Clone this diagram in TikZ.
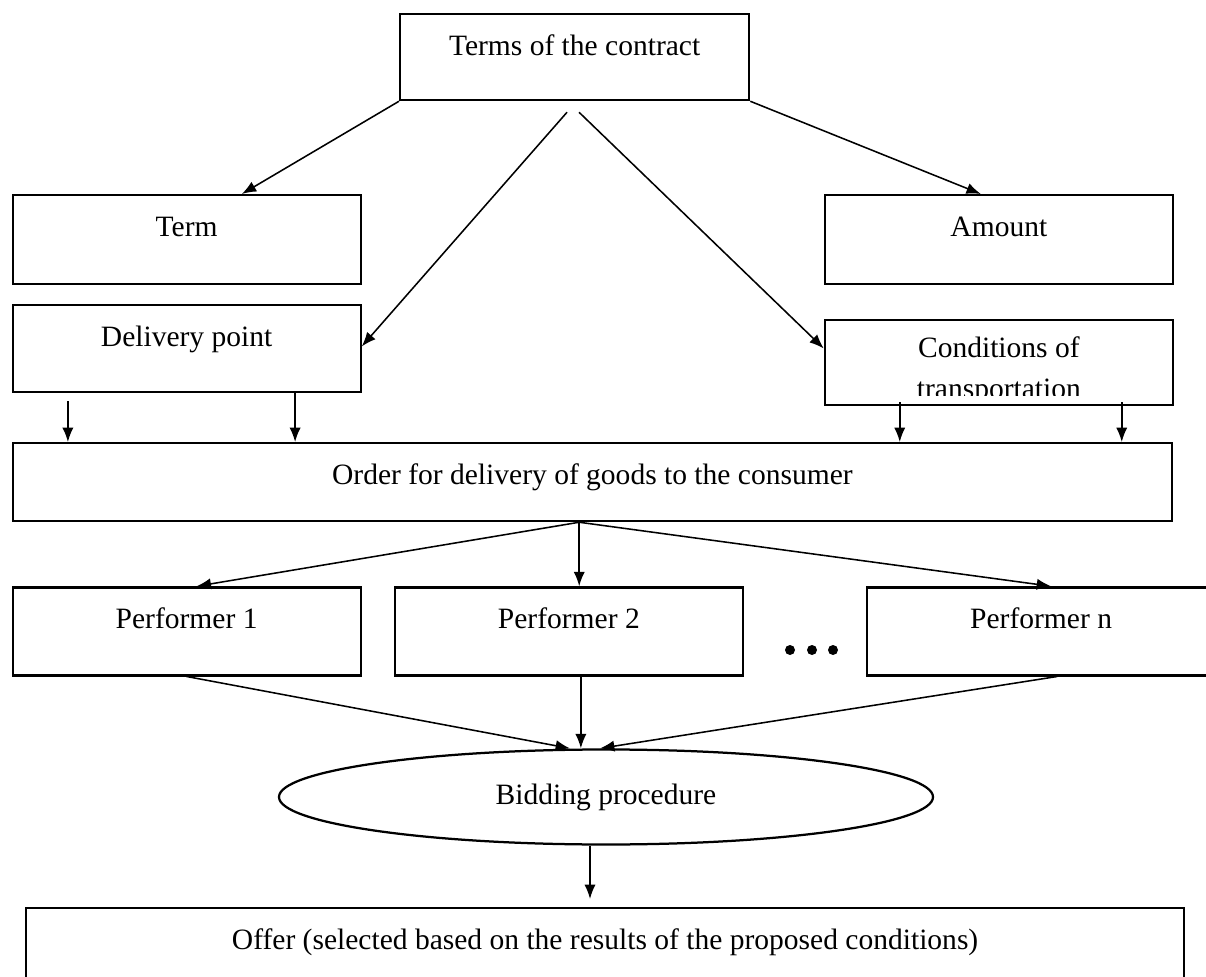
\documentclass[tikz,border=0pt]{standalone}
\usepackage{fontspec}
\setmainfont{Liberation Serif}
\usetikzlibrary{arrows.meta, positioning, shapes.geometric}

\begin{document}
\begin{tikzpicture}[
    node distance=1cm and 1cm,
    font=\fontsize{21pt}{29pt}\selectfont,
    box/.style={draw, line width=1.6pt, inner sep=0pt, align=flush center, text width=8.7cm, text height=1.03cm, text depth=#1},
    box/.default=1.17cm,
    oval/.style={draw, ellipse, line width=1.6pt, inner sep=0pt, minimum width=16.35cm, minimum height=2.375cm},
    every edge/.style={draw, line width=1.1pt, -{Latex[length=3.6mm, width=2.8mm]}},
]
\path[use as bounding box, fill=white] (0,0) rectangle (30.15,-24.425);
\node[box=1.12cm, text width=8.725cm, anchor=north west] (terms) at (9.975,-0.325) {Terms of the contract};
\node[box=1.195cm, anchor=north west] (term) at (0.2875,-4.85) {Term};
\node[box=1.145cm, below=0.475cm of term] (deliv) {Delivery point};
\node[box=1.195cm, right=11.55cm of term] (amount) {Amount};
\node[box=1.095cm, below=0.85cm of amount] (cond) {};
\begin{scope}
\clip (cond.north west) rectangle ([yshift=-1.9cm]cond.north east);
\node[anchor=north, inner sep=0pt, align=flush center, text width=8.5cm, text height=0.95cm] (condtext) at (cond.north) {Conditions of\\transportation};
\end{scope}
\node[box=0.92cm, text width=28.99cm, anchor=north west] (order) at (0.2875,-11.05) {Order for delivery of goods to the consumer};
\node[box, below=1.6cm of order.south west, anchor=north west] (perf1) {Performer 1};
\node[box, right=0.8cm of perf1] (perf2) {Performer 2};
\node[box, right=3.05cm of perf2] (perfn) {Performer n};
\foreach \x in {19.75, 20.3, 20.825}
    \fill (\x,-16.25) circle (0.125cm);
\node[oval] (bid) at (15.15,-19.925) {Bidding procedure};
\node[box, text width=28.95cm, anchor=north west] (offer) at (0.625,-22.675) {Offer (selected based on the results of the proposed conditions)};
\coordinate (dl) at ([xshift=1.41cm, yshift=-0.2cm]deliv.south west);
\coordinate (dr) at ([xshift=7.09cm]deliv.south west);
\coordinate (cl) at ([xshift=1.9cm, yshift=0.1cm]cond.south west);
\coordinate (cr) at ([xshift=7.45cm, yshift=0.1cm]cond.south west);
\coordinate (os) at ([xshift=-0.33cm]order.south);
\coordinate (p2) at ([xshift=0.3cm]perf2.south);
\coordinate (bs) at ([xshift=-0.4cm]bid.south);
\draw (terms.south west) edge ([xshift=1.38cm]term.north);
\draw ([xshift=-0.19cm, yshift=-0.275cm]terms.south) edge ([yshift=0.06cm]deliv.east);
\draw ([xshift=0.11cm, yshift=-0.275cm]terms.south) edge ([yshift=0.36cm]cond.west);
\draw (terms.south east) edge ([xshift=-0.45cm]amount.north);
\draw (dl) edge (dl |- order.north);
\draw (dr) edge (dr |- order.north);
\draw (cl) edge (cl |- order.north);
\draw (cr) edge (cr |- order.north);
\draw (os) edge ([xshift=0.25cm]perf1.north);
\draw (os) edge (os |- perf2.north);
\draw (os) edge ([xshift=0.25cm]perfn.north);
\draw (perf1.south) edge ([xshift=-0.9cm]bid.north);
\draw (p2) edge (p2 |- bid.north);
\draw ([xshift=0.4cm]perfn.south) edge ([xshift=-0.15cm]bid.north);
\draw (bs) edge[shorten >=0.2cm] (bs |- offer.north);
\end{tikzpicture}
\end{document}
